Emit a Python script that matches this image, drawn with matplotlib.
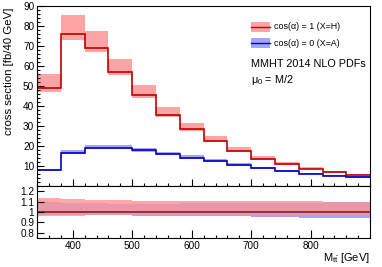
import numpy as np
import matplotlib.pyplot as plt
from matplotlib.patches import Rectangle
from matplotlib.ticker import MultipleLocator

plt.rcParams['font.family'] = ['Liberation Sans', 'DejaVu Sans']
plt.rcParams['mathtext.fontset'] = 'custom'
plt.rcParams['mathtext.rm'] = 'Liberation Sans'
plt.rcParams['mathtext.it'] = 'Liberation Sans'

# bin edges in M_tt [GeV]
edges = np.arange(340, 901, 40)

# central values [fb/40 GeV]
red_c = [49.0, 76.0, 68.8, 56.9, 45.3, 35.6, 28.4, 22.4, 17.4, 13.6, 10.8, 8.7, 6.9, 5.4]
blue_c = [7.9, 16.6, 18.9, 18.9, 17.7, 15.8, 14.1, 12.3, 10.3, 8.9, 7.4, 6.1, 5.1, 4.4]

# scale-band ratios to central value
red_up = [1.139, 1.123, 1.12, 1.114, 1.108, 1.105, 1.108, 1.108, 1.108, 1.108, 1.105, 1.105, 1.10, 1.095]
red_dn = [0.96, 0.96, 0.968, 0.97, 0.97, 0.973, 0.973, 0.97, 0.97, 0.97, 0.97, 0.97, 0.97, 0.97]
blue_up = [1.095, 1.09, 1.088, 1.08, 1.08, 1.08, 1.085, 1.09, 1.09, 1.09, 1.09, 1.09, 1.095, 1.10]
blue_dn = [0.97, 0.97, 0.97, 0.968, 0.966, 0.963, 0.958, 0.958, 0.957, 0.954, 0.948, 0.946, 0.942, 0.94]

red_line, red_fill = '#c00000', '#ff9494'
blue_line, blue_fill = '#0000c0', '#9494ff'

fig = plt.figure(figsize=(3.82, 2.67), dpi=100)
ax = fig.add_axes([0.097, 0.3034, 0.872, 0.676])
axr = fig.add_axes([0.097, 0.1086, 0.872, 0.1948])

rc, bc = np.array(red_c), np.array(blue_c)

# top panel
ax.stairs(rc * np.array(red_up), edges, baseline=rc * np.array(red_dn), fill=True,
          color=red_fill, alpha=0.85, lw=0)
ax.stairs(bc * np.array(blue_up), edges, baseline=bc * np.array(blue_dn), fill=True,
          color=blue_fill, alpha=0.85, lw=0)
ax.stairs(rc, edges, baseline=None, color=red_line, lw=1.2)
ax.stairs(bc, edges, baseline=None, color=blue_line, lw=1.2)

# ratio panel
axr.stairs(blue_up, edges, baseline=blue_dn, fill=True, color=blue_fill, alpha=0.85, lw=0)
axr.stairs(red_up, edges, baseline=red_dn, fill=True, color=red_fill, alpha=0.8, lw=0)
axr.stairs(bc / bc, edges, baseline=None, color=blue_line, lw=1.3)
axr.stairs(rc / rc, edges, baseline=None, color='#a03838', lw=1.3)

ax.set_xlim(340, 900)
ax.set_ylim(0, 90)
axr.set_xlim(340, 900)
axr.set_ylim(0.75, 1.25)

for a in (ax, axr):
    a.set_xticks([400, 500, 600, 700, 800])
    a.xaxis.set_minor_locator(MultipleLocator(20))
    a.tick_params(which='both', direction='in', top=False, right=False, labelsize=7.2,
                  pad=2, width=0.8)
    a.tick_params(which='major', length=5)
    a.tick_params(which='minor', length=2.5)
    for s in a.spines.values():
        s.set_linewidth(0.8)

ax.set_yticks(np.arange(10, 91, 10))
ax.yaxis.set_minor_locator(MultipleLocator(2))
ax.tick_params(labelbottom=False)
axr.set_yticks([0.8, 0.9, 1.0, 1.1, 1.2])
axr.set_yticklabels(['0.8', '0.9', '1', '1.1', '1.2'])
axr.tick_params(axis='x', which='major', length=6)

ax.set_ylabel('cross section [fb/40 GeV]', fontsize=8.2, loc='top')
ax.yaxis.set_label_coords(-0.07, 0.99)
fig.text(370 / 382, 1 - 258 / 267, r'M$_{t\bar{t}}$ [GeV]', fontsize=8, ha='right', va='center')

# legend
entries = [(0.881, red_fill, red_line, 'cos(α) = 1 (X=H)'),
           (0.792, blue_fill, blue_line, 'cos(α) = 0 (X=A)')]
for y, fc, lc, lab in entries:
    ax.add_patch(Rectangle((0.643, y - 0.03), 0.056, 0.06, transform=ax.transAxes,
                           facecolor=fc, alpha=0.85, lw=0))
    ax.plot([0.643, 0.699], [y, y], transform=ax.transAxes, color=lc, lw=1.0)
    ax.text(0.71, y, lab, transform=ax.transAxes, fontsize=6.4, va='center')
ax.text(0.643, 0.676, 'MMHT 2014 NLO PDFs', transform=ax.transAxes, fontsize=7.8, va='center')
ax.text(0.643, 0.587, r'μ$_{0}$ = M/2', transform=ax.transAxes, fontsize=7.8, va='center')

fig.savefig('out.png', dpi=100)
